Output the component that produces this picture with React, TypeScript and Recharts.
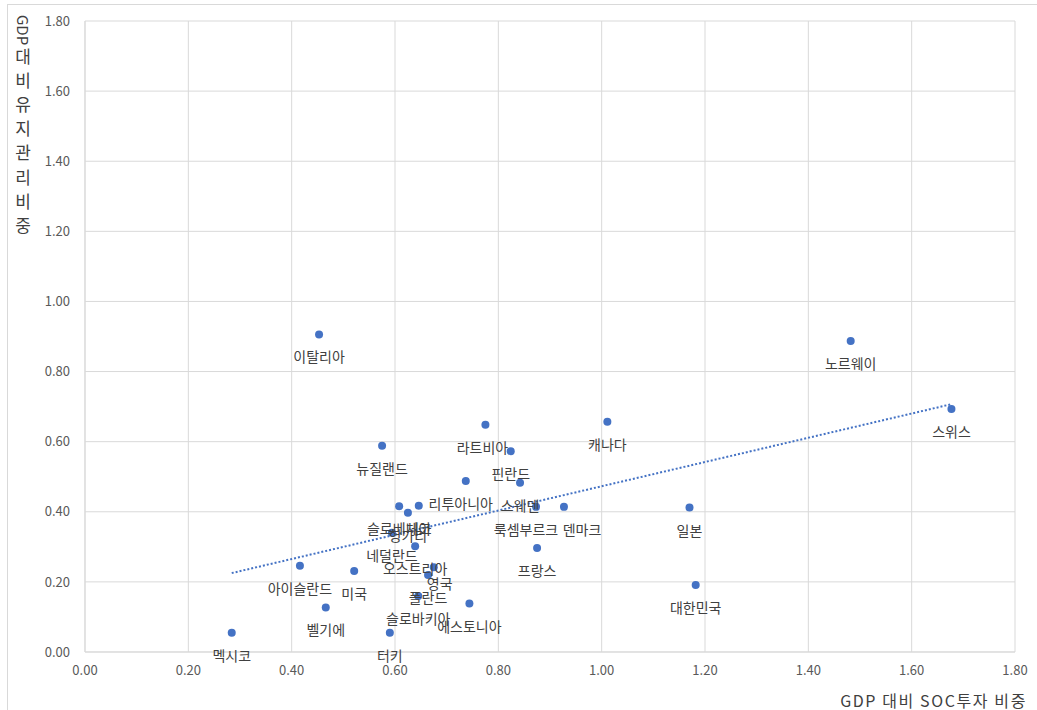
import React from "react";
import {
  ScatterChart,
  Scatter,
  XAxis,
  YAxis,
  CartesianGrid,
  ReferenceLine,
} from "recharts";

// OECD countries: SOC investment share of GDP (x) vs maintenance share of GDP (y)
const countries = [
  "이탈리아", "노르웨이", "스위스", "캐나다", "덴마크", "일본", "대한민국",
  "라트비아", "핀란드", "뉴질랜드", "리투아니아", "스웨덴", "룩셈부르크", "프랑스",
  "네덜란드", "오스트리아", "영국", "폴란드", "슬로바키아", "에스토니아", "벨기에",
  "아이슬란드", "미국", "터키", "멕시코", "슬로베니아", "헝가리", "체코",
];
const socShare = [
  0.453, 1.482, 1.677, 1.011, 0.927, 1.170, 1.182,
  0.775, 0.824, 0.575, 0.737, 0.842, 0.873, 0.875,
  0.594, 0.639, 0.675, 0.664, 0.645, 0.744, 0.466,
  0.416, 0.521, 0.590, 0.284, 0.608, 0.625, 0.646,
];
const maintShare = [
  0.906, 0.887, 0.693, 0.657, 0.414, 0.412, 0.191,
  0.648, 0.573, 0.588, 0.488, 0.483, 0.414, 0.297,
  0.340, 0.302, 0.242, 0.220, 0.160, 0.138, 0.127,
  0.246, 0.231, 0.055, 0.055, 0.416, 0.397, 0.417,
];
const xTicks = [0, 0.2, 0.4, 0.6, 0.8, 1.0, 1.2, 1.4, 1.6, 1.8];
const yTicks = [0, 0.2, 0.4, 0.6, 0.8, 1.0, 1.2, 1.4, 1.6, 1.8];

const xTitle = "GDP 대비 SOC투자 비중";
const yTitleLatin = "GDP";
const yTitleHangul = "대비 유지관리 비중";

// hand-placed data labels (pixel shifts from the default spot under the dot)
const labelNudge: Record<string, { dx: number; dy: number }> = {
  룩셈부르크: { dx: -10, dy: 0 },
  덴마크: { dx: 18, dy: 0 },
  영국: { dx: 6, dy: -6 },
  리투아니아: { dx: -5, dy: 0 },
  라트비아: { dx: -3, dy: 0 },
};

const points = countries.map((name, i) => ({
  name,
  x: socShare[i],
  y: maintShare[i],
}));

// least-squares linear trendline across the data range
const n = socShare.length;
const meanX = socShare.reduce((a, b) => a + b, 0) / n;
const meanY = maintShare.reduce((a, b) => a + b, 0) / n;
let sxy = 0;
let sxx = 0;
for (let i = 0; i < n; i++) {
  sxy += (socShare[i] - meanX) * (maintShare[i] - meanY);
  sxx += (socShare[i] - meanX) * (socShare[i] - meanX);
}
const slope = sxy / sxx;
const intercept = meanY - slope * meanX;
const minX = Math.min(...socShare);
const maxX = Math.max(...socShare);
const trendSegment = [
  { x: minX, y: intercept + slope * minX },
  { x: maxX, y: intercept + slope * maxX },
];

const FONT = "'Noto Sans CJK KR', 'Noto Sans', sans-serif";
const BLUE = "#4472C4";
const GRID = "#d9d9d9";
const TICK = "#595959";
const LABEL = "#404040";

const Dot = (props: any) => {
  const { cx, cy } = props;
  if (cx == null || cy == null) return null;
  return <circle cx={cx} cy={cy} r={4} fill={BLUE} />;
};

const NameLabel = (props: any) => {
  const { cx, cy, payload } = props;
  if (cx == null || cy == null) return null;
  const nudge = labelNudge[payload.name] || { dx: 0, dy: 0 };
  return (
    <text
      x={cx + nudge.dx}
      y={cy + 22 + nudge.dy}
      textAnchor="middle"
      dominantBaseline="central"
      fontFamily={FONT}
      fontSize={14}
      fill={LABEL}
    >
      {payload.name}
    </text>
  );
};

const YTitle = (props: any) => {
  const vb = props.viewBox || { x: 0, y: 21 };
  const cx = vb.x + 23;
  const top = vb.y - 6;
  const chars = Array.from(yTitleHangul).filter((c) => c !== " ");
  return (
    <g fontFamily={FONT} fill={LABEL}>
      <text
        x={cx}
        y={top}
        fontSize={15}
        transform={`rotate(90 ${cx} ${top})`}
        dominantBaseline="central"
        textAnchor="start"
      >
        {yTitleLatin}
      </text>
      {chars.map((c, i) => (
        <text
          key={i}
          x={cx}
          y={top + 40 + i * 24.2}
          fontSize={17}
          textAnchor="middle"
          dominantBaseline="central"
        >
          {c}
        </text>
      ))}
    </g>
  );
};

const XTitle = (props: any) => {
  const vb = props.viewBox || { x: 85, y: 652, width: 930 };
  return (
    <text
      x={vb.x + vb.width + 12}
      y={vb.y + 48}
      textAnchor="end"
      dominantBaseline="central"
      fontFamily={FONT}
      fontSize={16}
      letterSpacing={1.6}
      fill={LABEL}
    >
      {xTitle}
    </text>
  );
};

const fmt = (v: number) => v.toFixed(2);

export default function App() {
  return (
    <div
      style={{
        position: "absolute",
        left: 0,
        top: 0,
        width: 1037,
        height: 710,
        overflow: "hidden",
        background: "#fff",
      }}
    >
      <div
        style={{
          position: "absolute",
          left: 7,
          top: 4,
          width: 1060,
          height: 740,
          border: `1px solid ${GRID}`,
        }}
      />
      <div style={{ position: "absolute", left: 0, top: 0 }}>
        <ScatterChart
          width={1037}
          height={710}
          margin={{ top: 21, right: 22, bottom: 28, left: 0 }}
        >
          <CartesianGrid stroke={GRID} strokeWidth={1} />
          <XAxis
            type="number"
            dataKey="x"
            domain={[0, 1.8]}
            ticks={xTicks}
            tickFormatter={fmt}
            axisLine={{ stroke: GRID }}
            tickLine={false}
            tickSize={0}
            tickMargin={14}
            height={30}
            tick={{ fill: TICK, fontSize: 13, fontFamily: FONT }}
            interval={0}
            label={<XTitle />}
          />
          <YAxis
            type="number"
            dataKey="y"
            domain={[0, 1.8]}
            ticks={yTicks}
            tickFormatter={fmt}
            axisLine={{ stroke: GRID }}
            tickLine={false}
            tickSize={0}
            tickMargin={15}
            width={85}
            tick={{ fill: TICK, fontSize: 13, fontFamily: FONT }}
            interval={0}
            label={<YTitle />}
          />
          <Scatter
            data={points}
            shape={<Dot />}
            isAnimationActive={false}
          />
          <ReferenceLine
            segment={trendSegment}
            stroke={BLUE}
            strokeWidth={2}
            strokeDasharray="2 2"
            ifOverflow="visible"
          />
          <Scatter
            data={points}
            shape={<NameLabel />}
            isAnimationActive={false}
          />
        </ScatterChart>
      </div>
    </div>
  );
}
